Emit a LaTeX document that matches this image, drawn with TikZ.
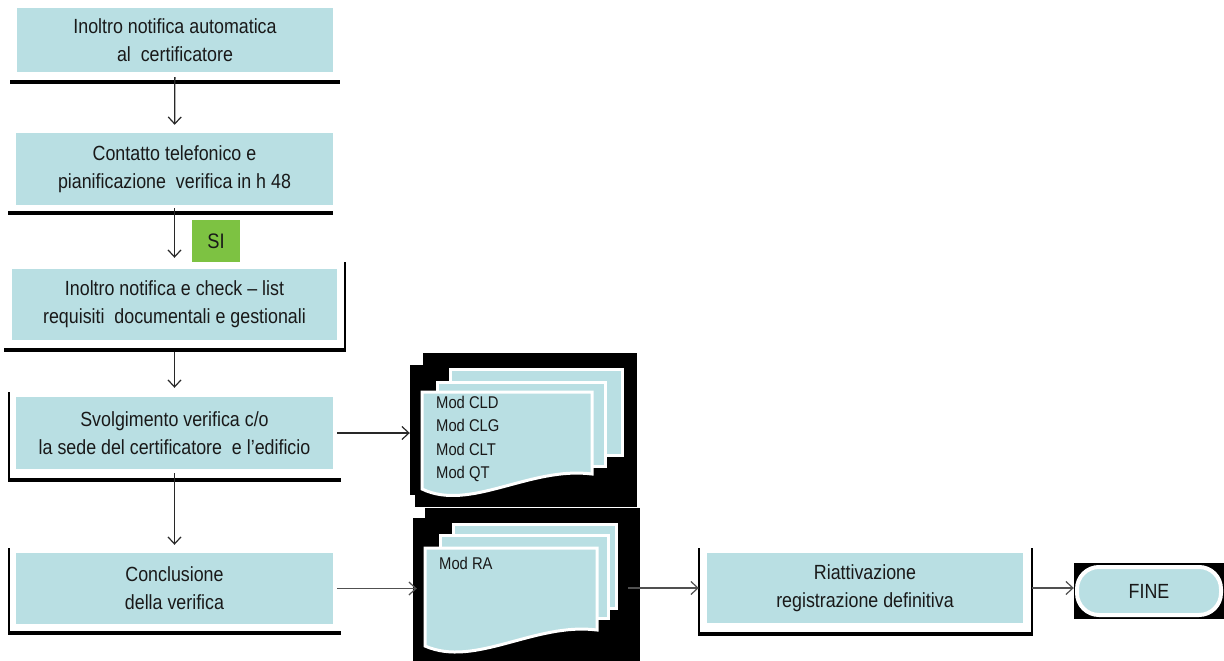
\documentclass[tikz,border=0pt]{standalone}
\usepackage{fontspec}
\setmainfont[FakeStretch=0.87]{Liberation Sans}
\usetikzlibrary{arrows.meta}
\definecolor{tealbox}{RGB}{185,223,227}
\definecolor{sigreen}{RGB}{125,194,66}
\definecolor{txt}{RGB}{25,25,25}
\definecolor{lin}{RGB}{40,40,40}
\definecolor{lin2}{RGB}{80,80,80}
\tikzset{
  procbox/.style={fill=tealbox, draw=none, inner sep=0pt, text=txt, align=center,
    font=\fontsize{20.5}{28}\selectfont},
  thickbar/.style={line width=4pt, black},
  frameline/.style={line width=1.5pt, black},
  arr/.style={draw=lin, line width=1.3pt, -{Straight Barb[length=7pt,width=13pt,line width=1.2pt]}},
  harr/.style={arr, draw=lin2},
  docbg/.style={fill=black, draw=none, inner sep=0pt},
  page/.style={fill=tealbox, draw=white, line width=3pt},
  modtext/.style={text=txt, align=left, inner sep=0pt, font=\fontsize{17}{23.3}\selectfont},
}
\begin{document}
\begin{tikzpicture}[x=1pt,y=-1pt]
\useasboundingbox (0,0) rectangle (1224,661);
\fill[white] (0,0) rectangle (1224,661);

% left column boxes
\node[procbox, minimum width=316pt, minimum height=64pt] (b1) at (175,40)
  {Inoltro notifica automatica\\al\ \ certificatore};
\node[procbox, minimum width=317pt, minimum height=72pt] (b2) at (174.5,169)
  {Contatto telefonico e\\pianificazione\ \ verifica in h 48};
\node[procbox, minimum width=325pt, minimum height=71pt] (b3) at (174.5,304.5)
  {Inoltro notifica e check -- list\\requisiti\ \ documentali e gestionali};
\node[procbox, minimum width=317pt, minimum height=72pt] (b4) at (174.5,433)
  {Svolgimento verifica c/o\\la sede del certificatore\ \ e l'edificio};
\node[procbox, minimum width=317pt, minimum height=71pt] (b5) at (174.5,588.5)
  {Conclusione\\della verifica};
\node[procbox, minimum width=316pt, minimum height=70pt] (r) at (865,588)
  {Riattivazione\\registrazione definitiva};

% frames of boxes
\draw[thickbar] (10,82) -- (340,82);
\draw[thickbar] (8,213) -- (333,213);
\draw[frameline] (345,262) -- (345,350);
\draw[thickbar] (4,350) -- (345.75,350);
\draw[frameline] (9,392) -- (9,480);
\draw[thickbar] (8.25,480) -- (341,480);
\draw[frameline] (9,548) -- (9,633);
\draw[thickbar] (8.25,633) -- (341,633);
\draw[frameline] (699,548) -- (699,634);
\draw[frameline] (1032,548) -- (1032,634);
\draw[thickbar] (698.25,634) -- (1032.75,634);

% SI label
\node[fill=sigreen, minimum width=48pt, minimum height=42pt, inner sep=0pt,
  text=txt, font=\fontsize{21}{24}\selectfont] (si) at (216,241) {SI};

% vertical arrows
\draw[arr, shorten <=5pt, shorten >=8pt] (b1) -- (b2);
\draw[arr, shorten <=3pt, shorten >=11pt] (b2) -- (b3);
\draw[arr, shorten <=12pt, shorten >=9pt] (b3) -- (b4);
\draw[arr, shorten <=4pt, shorten >=8pt] (b4) -- (b5);

% document stack 1
\node[docbg, minimum width=227pt, minimum height=154pt] (d1) at (523.5,430) {};
\fill[white] (409,352) rectangle (423,365);
\fill[white] (409,495) rectangle (415,508);
\draw[page] (450,369) rectangle (622,455);
\draw[page] (437,382) rectangle (605,466);
\draw[page] (422,392) -- (592,392) -- (592,474)
  .. controls (530,466) and (470,512) .. (422,489) -- cycle;
\node[modtext, anchor=north west] (m1) at (436,396)
  {Mod CLD\\Mod CLG\\Mod CLT\\Mod QT};

% document stack 2
\node[docbg, minimum width=227pt, minimum height=153pt] (d2) at (526.5,584.5) {};
\fill[white] (412,507) rectangle (425,518);
\draw[page] (453,524) rectangle (616,608);
\draw[page] (440,535) rectangle (608,618);
\draw[page] (425,548) -- (597,548) -- (597,630)
  .. controls (535,622) and (475,668) .. (425,646) -- cycle;
\node[modtext, anchor=west] (m2) at (439,563) {Mod RA};

% horizontal arrows
\draw[arr] ([xshift=4pt]b4.east) -- (b4.east -| d1.west);
\draw[harr] ([xshift=4pt]b5.east) -- ([xshift=4pt]b5.east -| d2.west);
\draw[harr] ([xshift=-12pt]d2.east |- r.west) -- ([xshift=-8pt]r.west);

% FINE terminator
\node[docbg, minimum width=150pt, minimum height=56pt] (fb) at (1149,591) {};
\node[fill=tealbox, draw=white, line width=4pt, rounded corners=22pt,
  minimum width=144pt, minimum height=48pt, inner sep=0pt, text=txt,
  font=\fontsize{20.5}{24}\selectfont] (fine) at (1149,591) {FINE};
\draw[harr] ([xshift=9pt]r.east) -- (r.east -| fb.west);
\end{tikzpicture}
\end{document}
